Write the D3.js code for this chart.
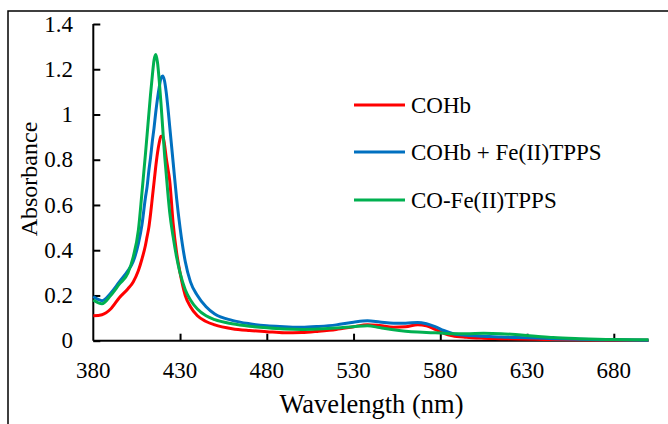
<!DOCTYPE html>
<html><head><meta charset="utf-8">
<script src="https://cdn.jsdelivr.net/npm/d3@7/dist/d3.min.js"></script>
<style>body{margin:0;background:#fff}svg{display:block}</style>
</head><body><svg id="c" width="668" height="424"></svg>
<script>
const wavelengths = [380,385,390,395,400,403,406,408,410,411,412,413,414,415,416,417,418,419,420,421,422,423,424,426,428,430,433,436,440,445,450,460,470,480,490,500,510,520,530,538,545,553,560,567,572,577,582,587,595,605,615,625,635,645,660,680,700];
const cohb = [.11,.115,.14,.19,.23,.26,.31,.36,.42,.46,.50,.56,.63,.70,.77,.83,.875,.903,.905,.87,.81,.76,.71,.52,.39,.30,.20,.15,.11,.085,.07,.053,.045,.04,.035,.036,.042,.05,.062,.071,.067,.06,.062,.071,.066,.05,.033,.022,.015,.011,.009,.007,.006,.005,.004,.003,.002];
const cohbFe = [.195,.177,.21,.26,.31,.35,.43,.51,.63,.68,.75,.81,.88,.94,1.01,1.07,1.12,1.16,1.17,1.15,1.10,1.03,.95,.79,.63,.50,.35,.26,.20,.15,.118,.09,.075,.066,.062,.059,.063,.07,.082,.088,.083,.077,.077,.081,.075,.062,.045,.032,.024,.02,.016,.014,.012,.009,.006,.004,.002];
const coFe = [.18,.163,.20,.25,.30,.37,.49,.65,.82,.91,1.0,1.09,1.17,1.24,1.265,1.23,1.15,1.05,.94,.83,.74,.65,.57,.46,.37,.30,.225,.18,.14,.11,.093,.075,.064,.057,.052,.05,.052,.056,.062,.066,.058,.048,.042,.038,.036,.035,.033,.031,.031,.033,.031,.026,.02,.014,.009,.005,.004];
const seriesNames = ["COHb","COHb + Fe(II)TPPS","CO-Fe(II)TPPS"];
const seriesColors = ["#FF0000","#0070C0","#00B050"];
const xTicks = [380,430,480,530,580,630,680];
const yTicks = [0,0.2,0.4,0.6,0.8,1,1.2,1.4];

const FONT = '"Liberation Serif", serif';
const svg = d3.select("#c");
const x = d3.scaleLinear().domain([380,700]).range([93.3,648.5]);
const y = d3.scaleLinear().domain([0,1.4]).range([340.7,24]);

// frame
svg.append("path").attr("d","M8,424V11H668").attr("fill","none").attr("stroke","#000").attr("stroke-width",1.5);

// axes
const ya = svg.append("g").attr("transform",`translate(${x(380)},0)`)
  .call(d3.axisRight(y).tickValues(yTicks).tickSize(7).tickFormat(""));
ya.select(".domain").attr("d",`M0,${y(1.4)}V${y(0)}`).attr("stroke-width",2);
ya.selectAll(".tick line").attr("stroke-width",2);
const xa = svg.append("g").attr("transform",`translate(0,${y(0)})`)
  .call(d3.axisTop(x).tickValues(xTicks.slice(1)).tickSize(7).tickFormat(""));
xa.select(".domain").attr("d",`M${x(380)},0H${x(700)}`).attr("stroke-width",2);
xa.selectAll(".tick line").attr("stroke-width",2);

const T = sel => sel.style("font-family",FONT).attr("fill","#000");

svg.append("g").selectAll("text").data(yTicks).join("text")
  .attr("x",73).attr("y",d=>y(d)).attr("dy","0.33em").attr("text-anchor","end")
  .attr("font-size",23).text(d=>String(+d.toFixed(1))).call(T);
svg.append("g").selectAll("text").data(xTicks).join("text")
  .attr("x",d=>x(d)).attr("y",378).attr("text-anchor","middle")
  .attr("font-size",23).text(d=>d).call(T);

svg.append("text").attr("transform","translate(37,179) rotate(-90)").attr("text-anchor","middle")
  .attr("font-size",24).text("Absorbance").call(T);
svg.append("text").attr("x",371.5).attr("y",413).attr("text-anchor","middle")
  .attr("font-size",26.5).text("Wavelength (nm)").call(T);

// lines
const series = [cohb, cohbFe, coFe];
const line = d3.line().x((d,i)=>x(wavelengths[i])).y(d=>y(d)).curve(d3.curveMonotoneX);
series.forEach((s,k)=>{
  svg.append("path").datum(s).attr("d",line).attr("fill","none")
    .attr("stroke",seriesColors[k]).attr("stroke-width",3).attr("stroke-linejoin","round");
});

// legend
const ly = [105,152,200];
seriesNames.forEach((n,i)=>{
  svg.append("line").attr("x1",354).attr("x2",405).attr("y1",ly[i]).attr("y2",ly[i])
    .attr("stroke",seriesColors[i]).attr("stroke-width",3);
  svg.append("text").attr("x",411).attr("y",ly[i]).attr("dy","0.33em").attr("font-size",23).text(n).call(T);
});
</script></body></html>
